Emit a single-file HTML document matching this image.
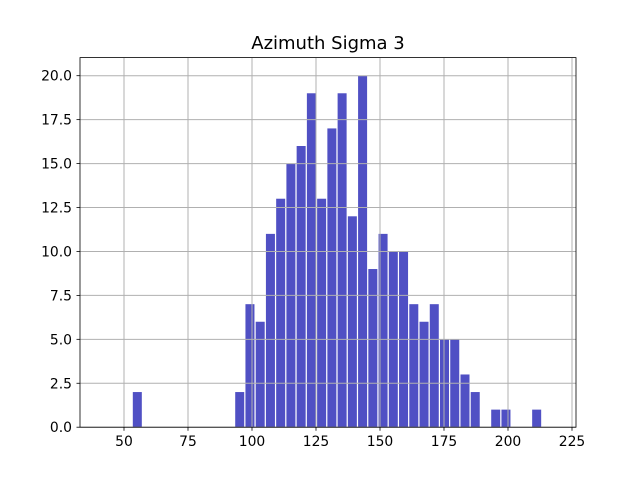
<!DOCTYPE html>
<html><head><meta charset="utf-8"><style>body{margin:0;background:#fff}svg{display:block;font-family:"DejaVu Sans","Liberation Sans",sans-serif}</style></head>
<body>
<svg id="chart" width="640" height="480">
<rect width="640" height="480" fill="#fff"/>
<text x="328" y="49" text-anchor="middle" font-size="18">Azimuth Sigma 3</text>
<g id="bars"></g>
<g id="grid"></g>
<rect x="80" y="57.6" width="496" height="369.6" fill="none" stroke="#000" stroke-width="0.8"/>
<g id="ticks"></g>
</svg>
<script>
const counts=[2,0,0,0,0,0,0,0,0,0,2,7,6,11,13,15,16,19,13,17,19,12,20,9,11,10,10,7,6,7,5,5,3,2,0,1,1,0,0,1];
const binStart=53.2, binWidth=4.0;
const xTicks=[50,75,100,125,150,175,200,225];
const yTicks=[0,2.5,5,7.5,10,12.5,15,17.5,20];
const yLabels=["0.0","2.5","5.0","7.5","10.0","12.5","15.0","17.5","20.0"];
const NS="http://www.w3.org/2000/svg";
const X=v=>-4+v*2.56, Y=v=>427.2-v*17.575;
const bars=document.getElementById('bars'),grid=document.getElementById('grid'),ticks=document.getElementById('ticks');
function mk(t,a,p){const e=document.createElementNS(NS,t);for(const k in a)e.setAttribute(k,a[k]);p.appendChild(e);return e;}
counts.forEach((c,i)=>{if(!c)return;const l=X(binStart+i*binWidth+binWidth*0.06),r=X(binStart+(i+0.94)*binWidth);
const b=mk('rect',{x:l,y:Y(c),width:r-l,height:Y(0)-Y(c),fill:'#5050c4'},bars);

});
xTicks.forEach(v=>{const x=X(v);
mk('line',{x1:x,x2:x,y1:57.6,y2:427.2,stroke:'#b0b0b0','stroke-width':1},grid);
mk('line',{x1:x,x2:x,y1:427.2,y2:430.7,stroke:'#000','stroke-width':0.8},ticks);
const t=mk('text',{x:x,y:446,'text-anchor':'middle','font-size':13.9},ticks);t.textContent=v;

});
yTicks.forEach((v,i)=>{const y=Y(v);
mk('line',{x1:80,x2:576,y1:y,y2:y,stroke:'#b0b0b0','stroke-width':1},grid);
mk('line',{x1:76.5,x2:80,y1:y,y2:y,stroke:'#000','stroke-width':0.8},ticks);
const t=mk('text',{x:72,y:y+5,'text-anchor':'end','font-size':13.9},ticks);t.textContent=yLabels[i];

});
</script>
</body></html>
